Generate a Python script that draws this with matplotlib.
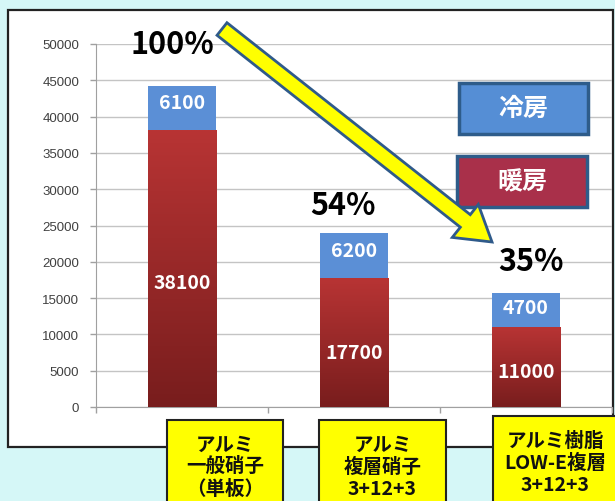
import numpy as np
import matplotlib.pyplot as plt
import matplotlib.patches as mpatches
from matplotlib.transforms import Affine2D
from matplotlib.colors import LinearSegmentedColormap

plt.rcParams['font.family'] = ['Noto Sans CJK JP', 'DejaVu Sans']

# data
categories = ["アルミ\n一般硝子\n（単板）", "アルミ\n複層硝子\n3+12+3", "アルミ樹脂\nLOW-E複層\n3+12+3"]
heating = [38100, 17700, 11000]   # 暖房
cooling = [6100, 6200, 4700]      # 冷房
percents = ["100%", "54%", "35%"]
yticks = [0, 5000, 10000, 15000, 20000, 25000, 30000, 35000, 40000, 45000, 50000]

W, H = 615, 502
fig = plt.figure(figsize=(W / 100, H / 100), dpi=100)
fig.patch.set_facecolor("#D5F7F7")

# pixel coords, origin top-left
pix = Affine2D().scale(1 / W, -1 / H).translate(0, 1) + fig.transFigure

# white chart panel
fig.patches.append(mpatches.Rectangle((8, 11), 605, 437, transform=pix,
                                      facecolor="white", edgecolor="#222222", lw=1.6, zorder=-1))

ax = fig.add_axes([96 / W, 1 - 408 / H, 516 / W, 363 / H])
ax.set_facecolor("none")
x = np.arange(len(categories))
bw = 0.40

red_cmap = LinearSegmentedColormap.from_list("red", ["#781D1D", "#B83434"])
bars_h = ax.bar(x, heating, bw, color="#A52A2A", zorder=3)
bars_c = ax.bar(x, cooling, bw, bottom=heating, color="#5B8FD6", zorder=3)

# gradient on heating bars
grad = np.linspace(0, 1, 256).reshape(-1, 1)
for b in bars_h:
    x0, y0 = b.get_x(), b.get_y()
    im = ax.imshow(grad, cmap=red_cmap, origin="lower", aspect="auto",
                   extent=[x0, x0 + b.get_width(), y0, y0 + b.get_height()], zorder=3.5)
    im.set_clip_path(b)

ax.set_xlim(-0.5, 2.5)
ax.set_ylim(0, 50000)
ax.set_yticks(yticks)
ax.set_yticklabels([str(v) for v in yticks], fontsize=9.5, color="#404040",
                   family=["Liberation Sans", "DejaVu Sans"])
ax.set_xticks([-0.5, 0.5, 1.5, 2.5])
ax.set_xticklabels([])
ax.tick_params(axis="both", color="#A0A0A0", length=4, width=1, pad=8)
ax.grid(axis="y", color="#C4C4C4", lw=1, zorder=1)
for s in ["top", "right"]:
    ax.spines[s].set_visible(False)
for s in ["left", "bottom"]:
    ax.spines[s].set_color("#A0A0A0")

# value labels
red_off = [-10, -7, -3]
blue_off = [4, 4, 2]
for i in range(len(categories)):
    ax.annotate(str(heating[i]), (x[i], heating[i] / 2), xytext=(0, red_off[i]),
                textcoords="offset points", ha="center", va="center",
                color="white", fontsize=14, fontweight="bold", zorder=5)
    ax.annotate(str(cooling[i]), (x[i], heating[i] + cooling[i] / 2), xytext=(0, blue_off[i]),
                textcoords="offset points", ha="center", va="center",
                color="white", fontsize=14, fontweight="bold", zorder=5)

# percent labels
pct_pos = [(172, 45), (343, 206), (531, 262)]
for p, (px_, py_) in zip(percents, pct_pos):
    fig.text(px_, py_, p, transform=pix, ha="center", va="center",
             fontsize=22, fontweight="bold", color="black", zorder=6)

# yellow arrow
arr = mpatches.FancyArrow(222, 30, 270, 213, width=16, head_width=42, head_length=34,
                          length_includes_head=True, transform=pix,
                          facecolor="#FFFF00", edgecolor="#2F5A8A", lw=2, zorder=7)
fig.patches.append(arr)

# legend boxes
fig.patches.append(mpatches.Rectangle((459, 84), 129, 51, transform=pix,
                                      facecolor="#558ED5", edgecolor="#2E5C8A", lw=2.5, zorder=6))
fig.text(523, 109, "冷房", transform=pix, ha="center", va="center",
         color="white", fontsize=18, fontweight="bold", zorder=7)
fig.patches.append(mpatches.Rectangle((457, 157), 130, 51, transform=pix,
                                      facecolor="#A9304A", edgecolor="#2E5C8A", lw=2.5, zorder=6))
fig.text(522, 182, "暖房", transform=pix, ha="center", va="center",
         color="white", fontsize=18, fontweight="bold", zorder=7)

# category boxes
box_pos = [(167, 421, 116), (319, 421, 127), (493, 417, 125)]
for lab, (bx, by, bwid) in zip(categories, box_pos):
    fig.patches.append(mpatches.Rectangle((bx, by), bwid, 90, transform=pix,
                                          facecolor="#FFFF00", edgecolor="#222222", lw=1.5, zorder=6))
    fig.text(bx + bwid / 2, by + 46, lab, transform=pix, ha="center", va="center",
             fontsize=14, fontweight="bold", color="#111111", linespacing=1.2, zorder=7)

plt.savefig("out.png", dpi=100)
